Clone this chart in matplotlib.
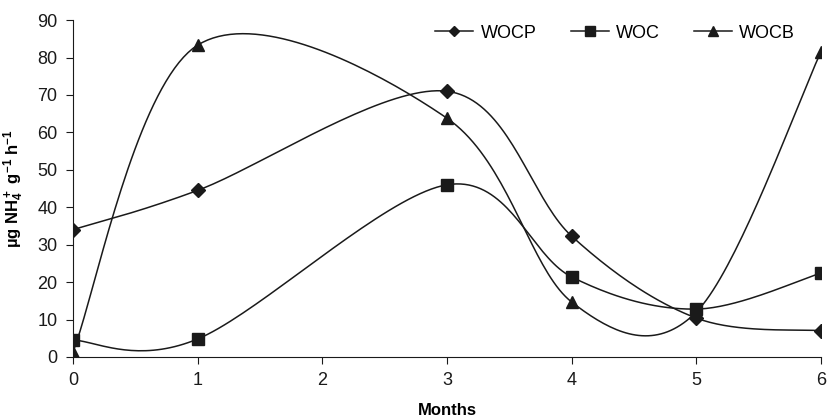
import numpy as np
import matplotlib
matplotlib.use("Agg")
import matplotlib.pyplot as plt

plt.rcParams['font.family'] = ['Liberation Sans', 'DejaVu Sans']
plt.rcParams['mathtext.default'] = 'regular'

months = [0, 1, 3, 4, 5, 6]
wocp = [34, 44.5, 71, 32.3, 10.4, 7]
woc = [4.5, 4.8, 46, 21.4, 12.8, 22.4]
wocb = [1.3, 83.3, 63.8, 14.7, 12, 81.5]
series_names = ['WOCP', 'WOC', 'WOCB']
markers = ['D', 's', '^']
msizes = [7, 8.5, 9]


def smooth(x, y, n=40):
    # excel style bezier smoothing
    x = np.asarray(x, float)
    y = np.asarray(y, float)
    px = np.concatenate([[x[0]], x, [x[-1]]])
    py = np.concatenate([[y[0]], y, [y[-1]]])
    xs, ys = [], []
    t = np.linspace(0, 1, n)
    for i in range(len(x) - 1):
        p0 = np.array([px[i + 1], py[i + 1]])
        p3 = np.array([px[i + 2], py[i + 2]])
        p1 = p0 + (np.array([px[i + 2], py[i + 2]]) - np.array([px[i], py[i]])) / 6
        p2 = p3 - (np.array([px[i + 3], py[i + 3]]) - np.array([px[i + 1], py[i + 1]])) / 6
        b = ((1 - t) ** 3)[:, None] * p0 + (3 * (1 - t) ** 2 * t)[:, None] * p1 \
            + (3 * (1 - t) * t ** 2)[:, None] * p2 + (t ** 3)[:, None] * p3
        xs.extend(b[:, 0])
        ys.extend(b[:, 1])
    return xs, ys


fig = plt.figure(figsize=(8.28, 4.19), dpi=100)
ax = fig.add_axes([0.088, 0.148, 0.9035, 0.804])

for ys, name, m, ms in zip([wocp, woc, wocb], series_names, markers, msizes):
    sx, sy = smooth(months, ys)
    ax.plot(sx, sy, color='#1a1a1a', lw=1.1)
    ax.plot(months, ys, ls='none', marker=m, ms=ms, color='#1a1a1a')
    ax.plot([], [], color='#1a1a1a', lw=1.1, marker=m, ms=ms * 0.8, label=name)

ax.set_xlim(0, 6)
ax.set_ylim(0, 90)
ax.set_xticks(range(7))
ax.set_yticks(range(0, 91, 10))
ax.spines['top'].set_visible(False)
ax.spines['right'].set_visible(False)
ax.tick_params(direction='out', length=5, labelsize=13, colors='#1a1a1a', pad=6)
for s in ['left', 'bottom']:
    ax.spines[s].set_color('#1a1a1a')
ax.patch.set_alpha(0)
for sp in ax.spines.values():
    sp.set_clip_on(False)

ax.set_xlabel('Months', fontsize=12, fontweight='bold', labelpad=10)
ax.set_ylabel('µg NH$_4^+$ g$^{-1}$ h$^{-1}$', fontsize=12, fontweight='bold', labelpad=8)

ax.legend(loc='center right', ncol=3, frameon=False, fontsize=13, handlelength=2.1,
          columnspacing=1.9, borderpad=0, borderaxespad=0, handletextpad=0.4,
          bbox_to_anchor=(795 / 828, 1 - 33 / 419), bbox_transform=fig.transFigure)

fig.savefig('out.png', dpi=100)
